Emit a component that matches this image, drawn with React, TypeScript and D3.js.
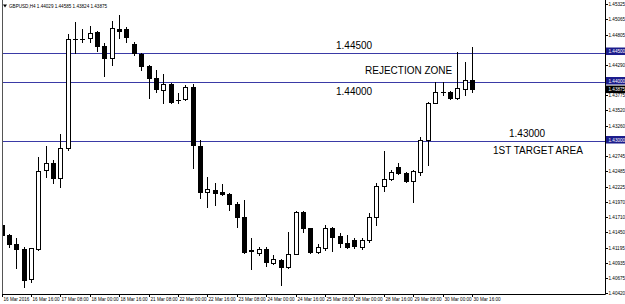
import React from "react";
import * as d3 from "d3";

const symbolTitle = "GBPUSD,H4";
const headerValues = ["1.44029", "1.44585", "1.43824", "1.43875"];

const openP = [
  1.41576, 1.41407, 1.41254, 1.41169, 1.40661, 1.41169, 1.42508, 1.42627, 1.42373, 1.42881,
  1.44729, 1.44735, 1.44746, 1.44847, 1.4461, 1.44407, 1.44898, 1.44898, 1.44644, 1.44475,
  1.44271, 1.44068, 1.43864, 1.43966, 1.43695, 1.43712, 1.43915, 1.42915, 1.42136, 1.42169,
  1.42136, 1.42102, 1.41932, 1.41712, 1.41136, 1.41102, 1.41169, 1.40932, 1.40983, 1.40864,
  1.41085, 1.41797, 1.41525, 1.41119, 1.41186, 1.41525, 1.4139, 1.41271, 1.41322, 1.41203,
  1.41322, 1.41712, 1.42237, 1.42356, 1.42559, 1.42458, 1.42322, 1.42475, 1.43017, 1.43644,
  1.43831, 1.43831, 1.43729, 1.43881, 1.44029,
];
const highP = [
  1.41661, 1.41424, 1.41356, 1.41203, 1.4119, 1.42729, 1.42915, 1.42678, 1.43119, 1.44814,
  1.45017, 1.44898, 1.44949, 1.44864, 1.44661, 1.45034, 1.45136, 1.44932, 1.44678, 1.44492,
  1.4428, 1.44203, 1.44136, 1.43983, 1.43814, 1.43949, 1.43966, 1.43017, 1.4239, 1.42288,
  1.42271, 1.42119, 1.41966, 1.42, 1.41356, 1.41203, 1.41203, 1.41068, 1.41, 1.41458,
  1.41814, 1.41814, 1.4153, 1.41254, 1.41576, 1.41542, 1.41441, 1.41407, 1.41356, 1.41356,
  1.4178, 1.42288, 1.42831, 1.42508, 1.42627, 1.42475, 1.42508, 1.43068, 1.43661, 1.44,
  1.44, 1.43847, 1.44508, 1.44339, 1.44585,
];
const lowP = [
  1.41322, 1.41203, 1.40847, 1.40525, 1.4061, 1.4116, 1.4239, 1.42288, 1.4222, 1.42847,
  1.44492, 1.44678, 1.44678, 1.44525, 1.44102, 1.44288, 1.44746, 1.44678, 1.44458, 1.44203,
  1.43729, 1.43831, 1.43644, 1.43644, 1.43644, 1.43695, 1.42542, 1.42034, 1.41881, 1.41915,
  1.42085, 1.41831, 1.41542, 1.41102, 1.40831, 1.41068, 1.40881, 1.40915, 1.40559, 1.4085,
  1.4108, 1.41458, 1.41102, 1.41102, 1.41153, 1.41136, 1.41203, 1.41186, 1.41186, 1.41169,
  1.41288, 1.41576, 1.42153, 1.42339, 1.42441, 1.42305, 1.41966, 1.42424, 1.42593, 1.4364,
  1.4378, 1.43712, 1.43712, 1.4378, 1.43824,
];
const closeP = [
  1.41407, 1.41254, 1.41169, 1.40644, 1.41186, 1.42492, 1.42627, 1.42373, 1.42881, 1.44729,
  1.44735, 1.44729, 1.44831, 1.4461, 1.44407, 1.44915, 1.44864, 1.44763, 1.44492, 1.44271,
  1.44068, 1.43881, 1.43966, 1.43661, 1.437, 1.43915, 1.42932, 1.42136, 1.42186, 1.42119,
  1.42102, 1.41932, 1.41712, 1.41119, 1.4115, 1.41169, 1.40949, 1.41, 1.40864, 1.41085,
  1.41797, 1.41525, 1.41119, 1.41203, 1.41525, 1.41373, 1.41271, 1.41203, 1.4122, 1.41322,
  1.41712, 1.42237, 1.42356, 1.42475, 1.42458, 1.42322, 1.42492, 1.43017, 1.43644, 1.43831,
  1.43835, 1.43729, 1.43898, 1.44034, 1.43875,
];

const timeLabels = [
  "16 Mar 2016", "16 Mar 16:00", "17 Mar 08:00", "18 Mar 00:00", "18 Mar 16:00",
  "21 Mar 08:00", "22 Mar 00:00", "22 Mar 16:00", "23 Mar 08:00", "24 Mar 00:00",
  "24 Mar 16:00", "25 Mar 08:00", "28 Mar 00:00", "28 Mar 16:00", "29 Mar 08:00",
  "30 Mar 00:00", "30 Mar 16:00",
];
const barsPerLabel = 4;

const priceTicks = [
  1.45325, 1.45065, 1.44805, 1.44545, 1.4429, 1.44035, 1.43775, 1.4352, 1.4326, 1.43005,
  1.42745, 1.42485, 1.42225, 1.4197, 1.4171, 1.4145, 1.41195, 1.40935, 1.40675, 1.4042,
];

const levelPrices = [1.445, 1.44, 1.43];
const levelTexts = ["1.44500", "1.44000", "1.43000"];
const zoneTexts = ["REJECTION ZONE", "1ST TARGET AREA"];
const lastPrice = 1.43875;

const W = 625;
const H = 304;
const AXIS_X = 605;
const AXIS_Y = 294;
const LEVEL_COLOR = "#3a3aa6";
const BOX_COLOR = "#1c1c8c";
const FONT = "'Liberation Sans', Arial, sans-serif";
const ANN = 10;

export default function App() {
  const n = openP.length;
  const x = d3.scaleLinear().domain([0, n - 1]).range([1.5, 1.5 + 7.35 * (n - 1)]);
  const y = d3.scaleLinear().domain([1.40407, 1.4539]).range([AXIS_Y, 0]);
  const fmt = d3.format(".5f");
  const crisp = (v: number) => Math.round(v) + 0.5;

  const candles = d3.range(n).map((i) => {
    const cx = Math.round(x(i));
    const o = openP[i];
    const c = closeP[i];
    const bull = c >= o;
    const top = Math.round(y(Math.max(o, c)));
    const bot = Math.round(y(Math.min(o, c)));
    return (
      <g key={i}>
        <line
          x1={cx + 0.5}
          x2={cx + 0.5}
          y1={Math.round(y(highP[i]))}
          y2={Math.round(y(lowP[i])) + 1}
          stroke="#000"
          strokeWidth={1}
        />
        {bot - top < 1 ? (
          <line x1={cx - 2} x2={cx + 3} y1={top + 0.5} y2={top + 0.5} stroke="#000" strokeWidth={1} />
        ) : bull ? (
          <rect x={cx - 1.5} y={top + 0.5} width={4} height={bot - top} fill="#fff" stroke="#000" strokeWidth={1} />
        ) : (
          <rect x={cx - 2} y={top} width={5} height={bot - top + 1} fill="#000" />
        )}
      </g>
    );
  });

  const dateMarks = timeLabels.map((t, k) => {
    const bx = Math.round(x(k * barsPerLabel)) + 0.5;
    return (
      <g key={t}>
        <line x1={bx} x2={bx} y1={AXIS_Y} y2={AXIS_Y + 3} stroke="#000" strokeWidth={1} />
        <text x={bx + 1} y={AXIS_Y + 6.5} fontSize={4.6} fontFamily={FONT} fill="#000">
          {t}
        </text>
      </g>
    );
  });

  const priceMarks = priceTicks.map((p) => {
    const py = crisp(y(p));
    return (
      <g key={p}>
        <line x1={AXIS_X} x2={AXIS_X + 3} y1={py} y2={py} stroke="#000" strokeWidth={1} />
        <text x={AXIS_X + 3.5} y={py + 1.6} fontSize={4.6} fontFamily={FONT} fill="#000">
          {fmt(p)}
        </text>
      </g>
    );
  });

  const levelLines = levelPrices.map((p) => {
    const py = crisp(y(p));
    return <line key={p} x1={2} x2={AXIS_X} y1={py} y2={py} stroke={LEVEL_COLOR} strokeWidth={1} />;
  });

  const levelBoxes = levelPrices.map((p) => {
    const py = y(p);
    return (
      <g key={p}>
        <rect x={AXIS_X + 1} y={py - 5} width={W - AXIS_X - 1} height={7.5} fill={BOX_COLOR} />
        <text x={AXIS_X + 3.5} y={py + 0.6} fontSize={4.6} fontFamily={FONT} fill="#fff">
          {fmt(p)}
        </text>
      </g>
    );
  });

  const lp = y(lastPrice);

  return (
    <div style={{ position: "absolute", left: 0, top: 0 }}>
      <svg width={W} height={H} style={{ display: "block", background: "#fff" }}>
        <rect x={0} y={0} width={W} height={H} fill="#fff" />
        {levelLines}
        <g>{candles}</g>
        <rect x={0} y={0} width={2} height={AXIS_Y} fill="#fff" />
        <line x1={2.5} x2={2.5} y1={0} y2={AXIS_Y} stroke="#555" strokeWidth={1} />
        <line x1={AXIS_X + 0.5} x2={AXIS_X + 0.5} y1={0} y2={AXIS_Y + 0.5} stroke="#000" strokeWidth={1} />
        <line x1={2} x2={AXIS_X + 0.5} y1={AXIS_Y + 0.5} y2={AXIS_Y + 0.5} stroke="#000" strokeWidth={1} />
        {priceMarks}
        {levelBoxes}
        <rect x={AXIS_X + 1} y={lp - 3.8} width={W - AXIS_X - 1} height={7.5} fill="#000" />
        <text x={AXIS_X + 3.5} y={lp + 1.6} fontSize={4.6} fontFamily={FONT} fill="#fff">
          {fmt(lastPrice)}
        </text>
        {dateMarks}
        <path d="M3,4.5 L7,4.5 L5,7.5 Z" fill="#000" />
        <text x={9} y={7.5} fontSize={4.6} fontFamily={FONT} fill="#000">
          {symbolTitle + " " + headerValues.join(" ")}
        </text>
        <text x={336} y={y(levelPrices[0]) - 3.5} fontSize={ANN} fontFamily={FONT} fill="#000">
          {levelTexts[0]}
        </text>
        <text x={365} y={73.5} fontSize={ANN} fontFamily={FONT} fill="#000">
          {zoneTexts[0]}
        </text>
        <text x={336} y={y(levelPrices[1]) + 13} fontSize={ANN} fontFamily={FONT} fill="#000">
          {levelTexts[1]}
        </text>
        <text x={509} y={y(levelPrices[2]) - 3.7} fontSize={ANN} fontFamily={FONT} fill="#000">
          {levelTexts[2]}
        </text>
        <text x={493} y={y(levelPrices[2]) + 13} fontSize={ANN} fontFamily={FONT} fill="#000">
          {zoneTexts[1]}
        </text>
      </svg>
    </div>
  );
}
